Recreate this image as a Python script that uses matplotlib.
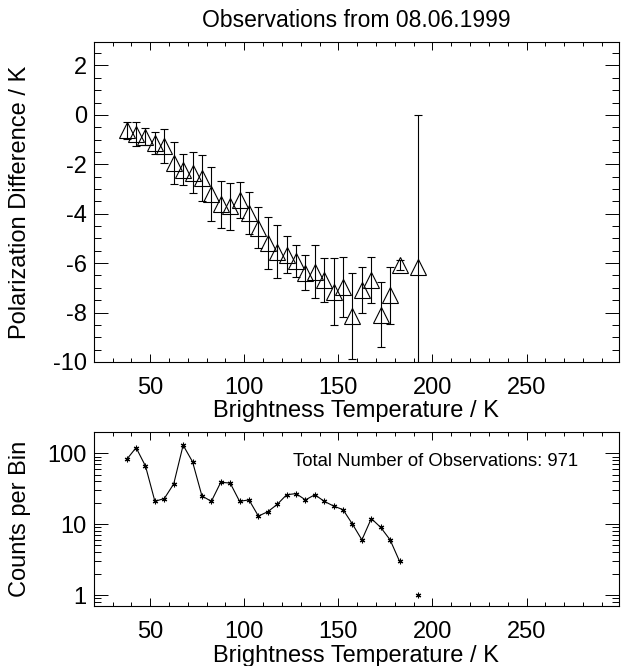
import numpy as np
import matplotlib
matplotlib.use("Agg")
import matplotlib.pyplot as plt
from matplotlib.ticker import MultipleLocator, LogLocator, NullFormatter, FixedLocator

plt.rcParams['font.family'] = ['Liberation Sans', 'DejaVu Sans']
plt.rcParams['axes.unicode_minus'] = False

# bin centres of brightness temperature (K)
tb_bins = [37.5, 42.5, 47.5, 52.5, 57.5, 62.5, 67.5, 72.5, 77.5, 82.5,
           87.5, 92.5, 97.5, 102.5, 107.5, 112.5, 117.5, 122.5, 127.5, 132.5,
           137.5, 142.5, 147.5, 152.5, 157.5, 162.5, 167.5, 172.5, 177.5, 182.5,
           187.5, 192.5]

# mean polarization difference per bin (K), nan where bin is empty
pol_diff = [-0.63, -0.77, -0.88, -1.14, -1.25, -1.95, -2.22, -2.34, -2.55, -3.20,
            -3.62, -3.69, -3.45, -3.98, -4.57, -5.17, -5.53, -5.66, -5.90, -6.38,
            -6.34, -6.70, -7.15, -6.95, -8.12, -7.10, -6.67, -8.08, -7.31, -6.06,
            np.nan, -6.14]

# standard deviation per bin (K)
pol_err = [0.34, 0.48, 0.34, 0.44, 0.69, 0.85, 0.63, 0.83, 0.93, 1.09,
           0.95, 0.95, 0.73, 0.85, 0.83, 1.05, 1.07, 0.75, 0.65, 0.71,
           1.09, 0.89, 1.35, 1.21, 1.74, 0.93, 0.93, 1.33, 1.15, 0.20,
           np.nan, 6.14]

# number of observations per bin
counts = [82, 120, 66, 21, 23, 37, 130, 76, 25, 21,
          39, 38, 21, 22, 13, 15, 19, 26, 27, 22,
          26, 21, 18, 16, 10, 6, 12, 9, 6, 3,
          0, 1]

x = np.array(tb_bins)
cnt = np.array(counts, dtype=float)
cnt[cnt == 0] = np.nan  # empty bins can't go on a log axis

FS = 17

fig = plt.figure(figsize=(6.25, 6.66), dpi=100)

# top panel: polarization difference
ax1 = fig.add_axes([0.150, 0.4565, 0.840, 0.4805])
ax1.errorbar(x, pol_diff, yerr=pol_err, fmt='none', ecolor='black',
             elinewidth=0.8, capsize=3, capthick=0.8)
ax1.plot(x, pol_diff, linestyle='none', marker='^', markersize=12,
         markerfacecolor='none', markeredgecolor='black', markeredgewidth=0.8)
ax1.set_xlim(20, 299)
ax1.set_ylim(-10, 2.95)
ax1.xaxis.set_major_locator(FixedLocator([50, 100, 150, 200, 250]))
ax1.xaxis.set_minor_locator(MultipleLocator(10))
ax1.yaxis.set_major_locator(MultipleLocator(2))
ax1.yaxis.set_minor_locator(MultipleLocator(0.5))
ax1.set_xlabel("Brightness Temperature / K", fontsize=FS)
ax1.set_ylabel("Polarization Difference / K", fontsize=FS)
ax1.set_title("Observations from 08.06.1999", fontsize=16.5, pad=11)
ax1.xaxis.set_label_coords(0.5, -0.118)
ax1.yaxis.set_label_coords(-0.12, 0.5)

# bottom panel: counts per bin
ax2 = fig.add_axes([0.150, 0.0901, 0.840, 0.2613])
ax2.plot(x, cnt, color='black', linewidth=0.8, marker=(6, 2, 0),
         markersize=4, markeredgewidth=0.8)
ax2.set_yscale('log')
ax2.set_xlim(20, 299)
ax2.set_ylim(0.7, 200)
ax2.xaxis.set_major_locator(FixedLocator([50, 100, 150, 200, 250]))
ax2.xaxis.set_minor_locator(MultipleLocator(10))
ax2.yaxis.set_major_locator(FixedLocator([1, 10, 100]))
ax2.yaxis.set_minor_locator(LogLocator(base=10, subs=np.arange(2, 10)))
ax2.yaxis.set_minor_formatter(NullFormatter())
ax2.set_yticklabels(["1", "10", "100"])
ax2.set_xlabel("Brightness Temperature / K", fontsize=FS)
ax2.set_ylabel("Counts per Bin", fontsize=FS)
ax2.xaxis.set_label_coords(0.5, -0.225)
ax2.yaxis.set_label_coords(-0.12, 0.5)
ax2.text(0.922, 0.83, "Total Number of Observations: %d" % int(np.nansum(cnt)),
         transform=ax2.transAxes, ha='right', va='center', fontsize=13.3)

for ax in (ax1, ax2):
    ax.tick_params(which='both', direction='in', top=True, right=True,
                   labelsize=FS, width=0.7)
    ax.tick_params(axis='x', which='major', length=6, pad=11)
    ax.tick_params(axis='x', which='minor', length=3)
    ax.tick_params(axis='y', which='major', length=10, pad=5)
    ax.tick_params(axis='y', which='minor', length=5)
    for s in ax.spines.values():
        s.set_linewidth(0.8)

fig.savefig("out.png", dpi=100)
